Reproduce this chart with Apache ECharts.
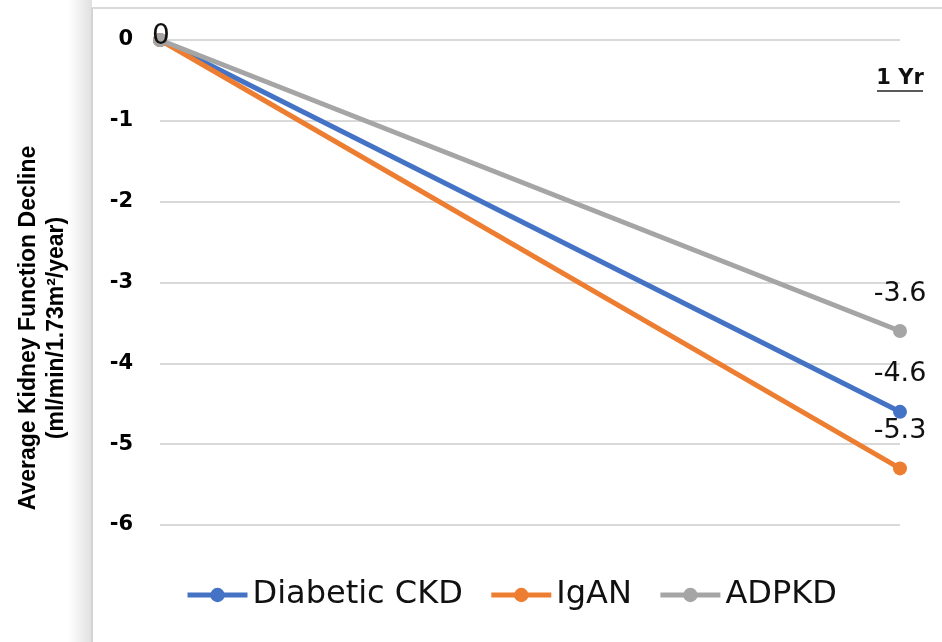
<!DOCTYPE html>
<html>
<head>
<meta charset="utf-8">
<script src="https://cdn.jsdelivr.net/npm/echarts@6/dist/echarts.min.js"></script>
<style>html,body{margin:0;padding:0;background:#fff;}#c{width:942px;height:642px;}</style>
</head>
<body>
<div id="c"></div>
<script>
const categories = ['0', '1 Yr'];
const seriesNames = ['Diabetic CKD', 'IgAN', 'ADPKD'];
const diabeticCKD = [0, -4.6];
const igan = [0, -5.3];
const adpkd = [0, -3.6];
const yMin = -6, yMax = 0, yStep = 1;
const yTitle = ['Average Kidney Function Decline', '(ml/min/1.73m\u00b2/year)'];

const colors = ['#4472C4', '#ED7D31', '#A5A5A5'];
const allData = [diabeticCKD, igan, adpkd];

const chart = echarts.init(document.getElementById('c'), null, {renderer: 'canvas'});

function buildData(arr, idx) {
  return arr.map((v, i) => {
    if (i === arr.length - 1) {
      return {value: v, label: {show: true, position: 'top', distance: 17}};
    }
    if (i === 0 && idx === 2) {
      return {value: v, label: {show: true, position: 'inside', offset: [1, -3], fontSize: 28}};
    }
    return {value: v};
  });
}

const series = allData.map((arr, idx) => ({
  name: seriesNames[idx],
  type: 'line',
  data: buildData(arr, idx),
  color: colors[idx],
  lineStyle: {width: 5, color: colors[idx]},
  itemStyle: {color: colors[idx]},
  symbol: 'circle',
  symbolSize: 14,
  label: {
    show: false,
    formatter: p => String(p.value),
    fontFamily: 'DejaVu Sans',
    fontSize: 27,
    color: '#111'
  },
  animation: false
}));

chart.setOption({
  animation: false,
  backgroundColor: '#fff',
  grid: {left: 160, right: 42, top: 40, bottom: 117, containLabel: false},
  legend: {
    left: 180,
    top: 574,
    itemWidth: 60,
    itemHeight: 18,
    itemGap: 26,
    lineStyle: {width: 5},
    textStyle: {fontFamily: 'DejaVu Sans', fontSize: 32, color: '#111'},
    data: seriesNames
  },
  xAxis: {
    type: 'category',
    data: categories,
    boundaryGap: false,
    position: 'top',
    axisLine: {show: false},
    axisTick: {show: false},
    splitLine: {show: false},
    axisLabel: {
      inside: true,
      margin: 28,
      formatter: (v, i) => i === 0 ? '' : v,
      fontFamily: 'DejaVu Sans',
      fontWeight: 'bold',
      fontSize: 21,
      color: '#111'
    }
  },
  yAxis: {
    type: 'value',
    min: yMin,
    max: yMax,
    interval: yStep,
    axisLine: {show: false},
    axisTick: {show: false},
    splitLine: {lineStyle: {color: '#d9d9d9', width: 2}},
    axisLabel: {
      margin: 27,
      fontFamily: 'DejaVu Sans',
      fontWeight: 'bold',
      fontSize: 21,
      color: '#000'
    }
  },
  series: series
});

// panel frame, axis title and underline
const xEnd = chart.convertToPixel({xAxisIndex: 0}, categories[categories.length - 1]);
chart.setOption({
  graphic: [
    {type: 'rect', silent: true, z: -10, shape: {x: 68, y: 0, width: 24, height: 642},
      style: {fill: new echarts.graphic.LinearGradient(0, 0, 1, 0, [
        {offset: 0, color: '#ffffff'}, {offset: 1, color: '#e0e0e0'}])}},
    {type: 'rect', silent: true, z: -9, shape: {x: 92, y: 8, width: 850, height: 634},
      style: {fill: '#ffffff'}},
    {type: 'line', silent: true, z: -8, shape: {x1: 92, y1: 8, x2: 942, y2: 8},
      style: {stroke: '#d9d9d9', lineWidth: 2}},
    {type: 'line', silent: true, z: -8, shape: {x1: 92, y1: 8, x2: 92, y2: 642},
      style: {stroke: '#d4d4d4', lineWidth: 2}},
    {type: 'line', silent: true, z: 10, shape: {x1: xEnd - 23, y1: 91, x2: xEnd + 23, y2: 91},
      style: {stroke: '#222', lineWidth: 1.5}},
    {type: 'text', silent: true, z: 10, x: 43, y: 328, rotation: Math.PI / 2,
      style: {text: yTitle.join('\n'), fontFamily: 'Liberation Sans', fontWeight: 'bold',
        fontSize: 23, lineHeight: 28, fill: '#000', align: 'center', verticalAlign: 'middle'}}
  ]
});
</script>
</body>
</html>
